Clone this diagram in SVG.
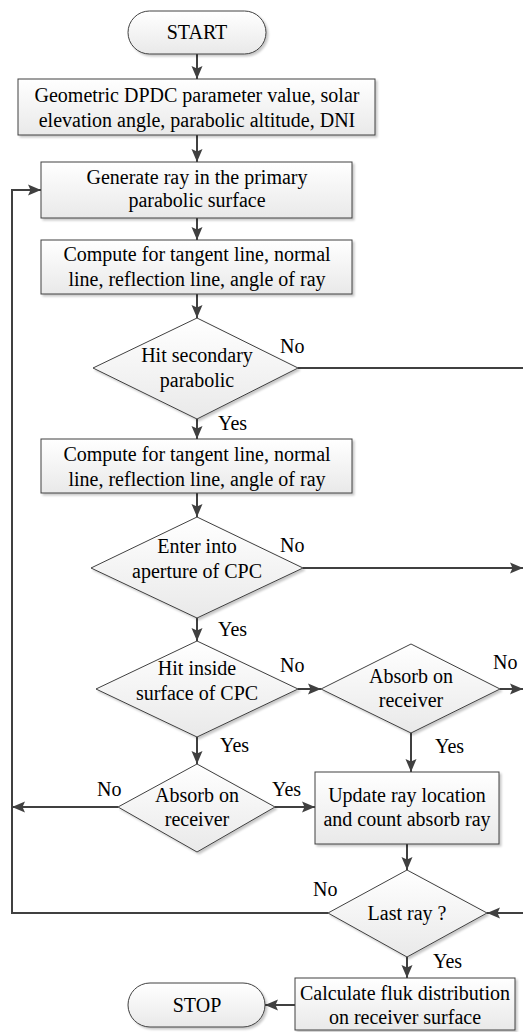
<svg xmlns="http://www.w3.org/2000/svg" width="523" height="1032" viewBox="0 0 523 1032" font-family="'Liberation Serif', 'Times New Roman', Tinos, 'DejaVu Serif', serif" font-size="20">
<style>
.n{fill:url(#g);stroke:#404040;stroke-width:1;filter:url(#sh)}
.t{fill:#000;text-anchor:middle}
.l{fill:#000}
.c{fill:none;stroke:#404040;stroke-width:2}
.a{marker-end:url(#ar)}
</style>
<defs>
<linearGradient id="g" x1="0" y1="0" x2="0" y2="1">
<stop offset="0" stop-color="#ffffff"/>
<stop offset="1" stop-color="#e9e9e9"/>
</linearGradient>
<filter id="sh" x="-10%" y="-10%" width="125%" height="130%">
<feDropShadow dx="2" dy="2" stdDeviation="1" flood-color="#000" flood-opacity="0.22"/>
</filter>
<marker id="ar" markerUnits="userSpaceOnUse" markerWidth="14" markerHeight="14" refX="13" refY="7" orient="auto">
<path d="M0,1.5 L13,7 L0,12.5 L2.5,7 z" fill="#404040"/>
</marker>
</defs>

<g id="connectors">
<path class="c a" d="M197,54 V79"/>
<path class="c a" d="M197,135 V162"/>
<path class="c a" d="M197,218 V240"/>
<path class="c a" d="M197,294 V318"/>
<path class="c" d="M298,368 H523"/>
<path class="c a" d="M197,419 V439"/>
<path class="c a" d="M197,493 V517"/>
<path class="c a" d="M303,568 H523"/>
<path class="c a" d="M197,618 V641"/>
<path class="c a" d="M298,689 H321"/>
<path class="c a" d="M500,689 H523"/>
<path class="c a" d="M197,737 V764"/>
<path class="c a" d="M411,733 V772"/>
<path class="c a" d="M118,807 H12"/>
<path class="c a" d="M275,807 H315"/>
<path class="c a" d="M407,844 V870"/>
<path class="c a" d="M328,913 H12 V190 H41"/>
<path class="c a" d="M523,913 H487"/>
<path class="c a" d="M407,957 V978"/>
<path class="c a" d="M295,1005 H265"/>
<text class="l" x="280" y="353">No</text>
<text class="l" x="218" y="430">Yes</text>
<text class="l" x="280" y="552">No</text>
<text class="l" x="218" y="636">Yes</text>
<text class="l" x="280" y="672">No</text>
<text class="l" x="220" y="752">Yes</text>
<text class="l" x="493" y="669">No</text>
<text class="l" x="435" y="753">Yes</text>
<text class="l" x="97" y="796">No</text>
<text class="l" x="272" y="796">Yes</text>
<text class="l" x="313" y="896">No</text>
<text class="l" x="433" y="968">Yes</text>
</g>

<g id="start">
<rect class="n" x="128" y="11" width="138" height="43" rx="21.5"/>
<text class="t" x="197" y="39">START</text>
</g>
<g id="input">
<rect class="n" x="18" y="79" width="357" height="56"/>
<text class="t" x="197" y="102">Geometric DPDC parameter value, solar</text>
<text class="t" x="197" y="127">elevation angle, parabolic altitude, DNI</text>
</g>
<g id="generate">
<rect class="n" x="41" y="162" width="311" height="56"/>
<text class="t" x="197" y="184">Generate ray in the primary</text>
<text class="t" x="197" y="207">parabolic surface</text>
</g>
<g id="compute1">
<rect class="n" x="41" y="240" width="311" height="54"/>
<text class="t" x="197" y="261">Compute for tangent line, normal</text>
<text class="t" x="197" y="286">line, reflection line, angle of ray</text>
</g>
<g id="hit-secondary">
<polygon class="n" points="197,318 298,368 197,419 93,368"/>
<text class="t" x="197" y="362">Hit secondary</text>
<text class="t" x="197" y="387">parabolic</text>
</g>
<g id="compute2">
<rect class="n" x="41" y="439" width="311" height="54"/>
<text class="t" x="197" y="461">Compute for tangent line, normal</text>
<text class="t" x="197" y="486">line, reflection line, angle of ray</text>
</g>
<g id="enter-aperture">
<polygon class="n" points="197,517 303,568 197,618 91,568"/>
<text class="t" x="197" y="553">Enter into</text>
<text class="t" x="197" y="578">aperture of CPC</text>
</g>
<g id="hit-inside">
<polygon class="n" points="197,641 298,689 197,737 96,689"/>
<text class="t" x="197" y="675">Hit inside</text>
<text class="t" x="197" y="700">surface of CPC</text>
</g>
<g id="absorb-right">
<polygon class="n" points="411,644 500,689 411,733 321,689"/>
<text class="t" x="411" y="683">Absorb on</text>
<text class="t" x="411" y="707">receiver</text>
</g>
<g id="absorb-left">
<polygon class="n" points="197,764 275,807 197,852 118,807"/>
<text class="t" x="197" y="802">Absorb on</text>
<text class="t" x="197" y="826">receiver</text>
</g>
<g id="update">
<rect class="n" x="315" y="772" width="184" height="72"/>
<text class="t" x="407" y="802">Update ray location</text>
<text class="t" x="407" y="826">and count absorb ray</text>
</g>
<g id="last-ray">
<polygon class="n" points="407,870 487,913 407,957 328,913"/>
<text class="t" x="407" y="920">Last ray ?</text>
</g>
<g id="calculate">
<rect class="n" x="295" y="978" width="220" height="52"/>
<text class="t" x="405" y="1000">Calculate fluk distribution</text>
<text class="t" x="405" y="1024">on receiver surface</text>
</g>
<g id="stop">
<rect class="n" x="128" y="983" width="137" height="44" rx="22"/>
<text class="t" x="197" y="1012">STOP</text>
</g>
</svg>
